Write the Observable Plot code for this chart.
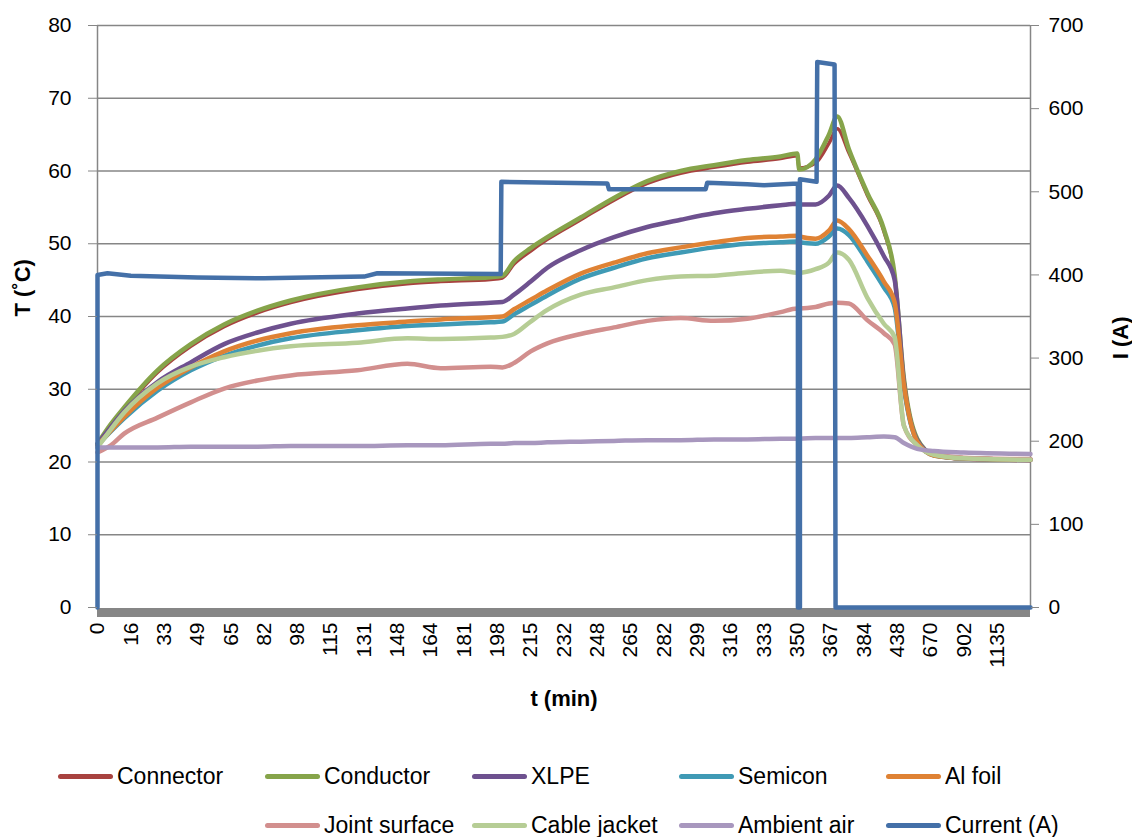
<!DOCTYPE html>
<html>
<head>
<meta charset="utf-8">
<script src="https://cdn.jsdelivr.net/npm/d3@7"></script>
<script src="https://cdn.jsdelivr.net/npm/@observablehq/plot@0.6"></script>
<style>
  body { margin: 0; background: #fff; }
  #wrap { position: relative; width: 1132px; height: 837px; font-family: "Liberation Sans", Arial, sans-serif; }
  .leg { position: absolute; display: flex; align-items: center; font-size: 23px; color: #000; white-space: nowrap; }
  .leg .sw { width: 55px; height: 5px; border-radius: 3px; margin-right: 4px; }
</style>
</head>
<body>
<div id="wrap"></div>
<script>
// x tick labels (category axis, t in min)
const tickLabels = ["0","16","33","49","65","82","98","115","131","148","164","181","198","215","232","248","265","282","299","316","333","350","367","384","438","670","902","1135"];

// sample positions along the category axis (in tick-label units)
const sampleIdx = [0,0.4,0.8,1.8,2.8,3.8,4.8,5.8,7.8,9.3,10.3,11.8,12.15,12.5,13.0,13.5,14.5,15.5,16.5,17.5,18.5,19.5,20.5,21.0,21.06,21.55,21.95,22.2,22.55,23.1,23.6,23.92,24.2,24.6,25.1,26,28];

const connector   = [22.3,24.9,27.2,32.3,35.9,38.6,40.5,41.9,43.7,44.5,44.8,45.1,45.3,47.2,49.0,50.6,53.3,56.0,58.3,59.7,60.5,61.2,61.7,62.1,60.4,61.1,63.8,65.8,62.5,56.7,51.7,45.6,31.3,23.1,20.9,20.4,20.2];
const conductor   = [22.5,25.2,27.5,32.6,36.2,38.9,40.8,42.2,44.0,44.8,45.1,45.4,45.6,47.6,49.4,50.9,53.6,56.3,58.6,60.0,60.8,61.5,62.0,62.4,60.2,61.6,65.0,67.5,63.0,57.0,52.0,45.8,31.5,23.2,21.0,20.5,20.3];
const xlpe        = [22.5,24.8,27.0,31.0,33.7,36.2,37.8,39.0,40.4,41.1,41.5,41.9,42.0,43.0,44.8,46.7,49.1,50.9,52.3,53.3,54.2,54.8,55.3,55.5,55.4,55.4,56.6,58.0,56.3,52.5,48.3,45.1,31.0,23.0,21.0,20.5,20.3];
const semicon     = [22.3,24.2,26.0,29.8,32.6,34.6,36.0,37.0,38.1,38.7,38.9,39.2,39.3,40.3,41.6,42.9,45.2,46.7,48.0,48.8,49.5,50.0,50.2,50.3,50.2,50.0,51.0,52.1,51.2,47.6,44.0,41.3,30.2,22.8,20.9,20.5,20.3];
const alFoil      = [22.3,24.3,26.2,30.2,33.0,35.2,36.7,37.7,38.8,39.3,39.6,39.9,40.0,41.0,42.3,43.6,45.9,47.4,48.7,49.5,50.2,50.8,51.0,51.1,51.0,50.7,51.8,53.2,52.0,48.4,44.8,42.0,30.6,22.8,20.9,20.5,20.3];
const jointSurf   = [21.3,22.3,23.9,26.1,28.2,30.1,31.2,31.9,32.6,33.5,32.9,33.1,33.0,33.6,35.2,36.3,37.6,38.5,39.4,39.8,39.4,39.7,40.6,41.1,41.1,41.3,41.8,41.9,41.8,39.5,37.7,36.2,25.0,22.3,21.1,20.6,20.4];
const cableJacket = [22.0,24.5,26.8,30.8,33.1,34.4,35.3,35.9,36.4,37.0,36.9,37.1,37.2,37.6,39.3,40.9,43.0,44.0,45.0,45.5,45.6,46.0,46.3,46.0,46.0,46.5,47.4,48.8,47.8,42.6,39.0,37.2,25.0,22.3,21.0,20.5,20.3];
const ambientAir  = [22.0,22.0,22.0,22.0,22.1,22.1,22.1,22.2,22.2,22.3,22.3,22.5,22.5,22.6,22.6,22.7,22.8,22.9,23.0,23.0,23.1,23.1,23.2,23.2,23.2,23.3,23.3,23.3,23.3,23.4,23.5,23.4,22.6,21.8,21.5,21.3,21.1];

// current (A), secondary axis
const currentIdx = [0,0,0.3,1,3,5,8,8.4,12.1,12.12,15.3,15.35,18.25,18.3,19.5,20.0,21.02,21.02,21.08,21.08,21.58,21.6,22.12,22.15,28];
const currentA   = [0,400,402,399,397,396,398,402,401,512,510,503,503,511,509,508,510,0,0,515,512,656,653,0,0];

const leftTicks = [0,10,20,30,40,50,60,70,80];
const rightTicks = [0,100,200,300,400,500,600,700];
const ratio = 700 / 80; // A per °C on the shared vertical extent

const series = [
  {name: "Connector", color: "#A8423F", values: connector, w: 3.5},
  {name: "Conductor", color: "#86A44A", values: conductor, w: 4.5},
  {name: "XLPE", color: "#6E518F", values: xlpe, w: 4.5},
  {name: "Semicon", color: "#3F9AB5", values: semicon, w: 4.5},
  {name: "Al foil", color: "#DF8234", values: alFoil, w: 4.5},
  {name: "Joint surface", color: "#D28F8E", values: jointSurf, w: 4.5},
  {name: "Cable jacket", color: "#B6CD95", values: cableJacket, w: 4.5},
  {name: "Ambient air", color: "#A897BE", values: ambientAir, w: 4.5}
];
const currentSeries = {name: "Current (A)", color: "#4470A8"};

const currentRows = currentIdx.map((i, k) => ({i, v: currentA[k] / ratio}));
const gray = "#868686";
const font = "'Liberation Sans', Arial, sans-serif";

const lineMarks = series.map(s => Plot.line(sampleIdx.map((i, k) => ({i, v: s.values[k]})), {
  x: "i", y: "v", stroke: s.color, strokeWidth: s.w, curve: "monotone-x", strokeLinejoin: "round"
}));

const chart = Plot.plot({
  width: 1132,
  height: 745,
  marginLeft: 97,
  marginRight: 102,
  marginTop: 25,
  marginBottom: 138,
  x: {domain: [0, 28], label: null},
  y: {domain: [0, 80], label: null},
  style: {fontFamily: font, fontSize: "21px", color: "#000", background: "#fff", overflow: "visible"},
  marks: [
    Plot.ruleY(leftTicks.filter(d => d > 0), {stroke: gray, strokeWidth: 1.5}),
    Plot.ruleY([0], {stroke: gray, strokeWidth: 9, dy: 5}),
    Plot.ruleX([0], {stroke: gray, strokeWidth: 1.5}),
    Plot.ruleX([28], {stroke: gray, strokeWidth: 1.5}),
    ...lineMarks,
    Plot.line(currentRows, {x: "i", y: "v", stroke: currentSeries.color, strokeWidth: 4.5, strokeLinejoin: "round"}),
    Plot.axisY(leftTicks, {anchor: "left", tickSize: 9, tickPadding: 17, stroke: gray, fontSize: 21, label: null}),
    Plot.axisY(rightTicks.map(d => d / ratio), {anchor: "right", tickSize: 8, tickPadding: 10, stroke: gray, fontSize: 21, label: null, tickFormat: d => Math.round(d * ratio)}),
    Plot.axisX(d3.range(tickLabels.length), {anchor: "bottom", tickSize: 0, tickPadding: 15, tickRotate: -90, fontSize: 21, label: null, tickFormat: i => tickLabels[i]}),
    Plot.text(["T (˚C)"], {text: d => d, frameAnchor: "left", dx: -75, rotate: -90, fontWeight: "bold", fontSize: 22}),
    Plot.text(["I (A)"], {text: d => d, frameAnchor: "right", dx: 90, rotate: -90, fontWeight: "bold", fontSize: 22}),
    Plot.text(["t (min)"], {text: d => d, frameAnchor: "bottom", dy: 98, fontWeight: "bold", fontSize: 22})
  ]
});

const wrap = document.getElementById("wrap");
wrap.appendChild(chart);

// legend
const legendItems = [...series, currentSeries];
const legendPos = [
  [58, 776], [265, 776], [472, 776], [679, 776], [886, 776],
  [265, 825], [472, 825], [679, 825], [886, 825]
];
legendItems.forEach((s, k) => {
  const d = document.createElement("div");
  d.className = "leg";
  d.style.left = legendPos[k][0] + "px";
  d.style.top = (legendPos[k][1] - 14) + "px";
  d.style.height = "28px";
  const sw = document.createElement("span");
  sw.className = "sw";
  sw.style.background = s.color;
  const t = document.createElement("span");
  t.textContent = s.name;
  d.appendChild(sw);
  d.appendChild(t);
  wrap.appendChild(d);
});
</script>
</body>
</html>
